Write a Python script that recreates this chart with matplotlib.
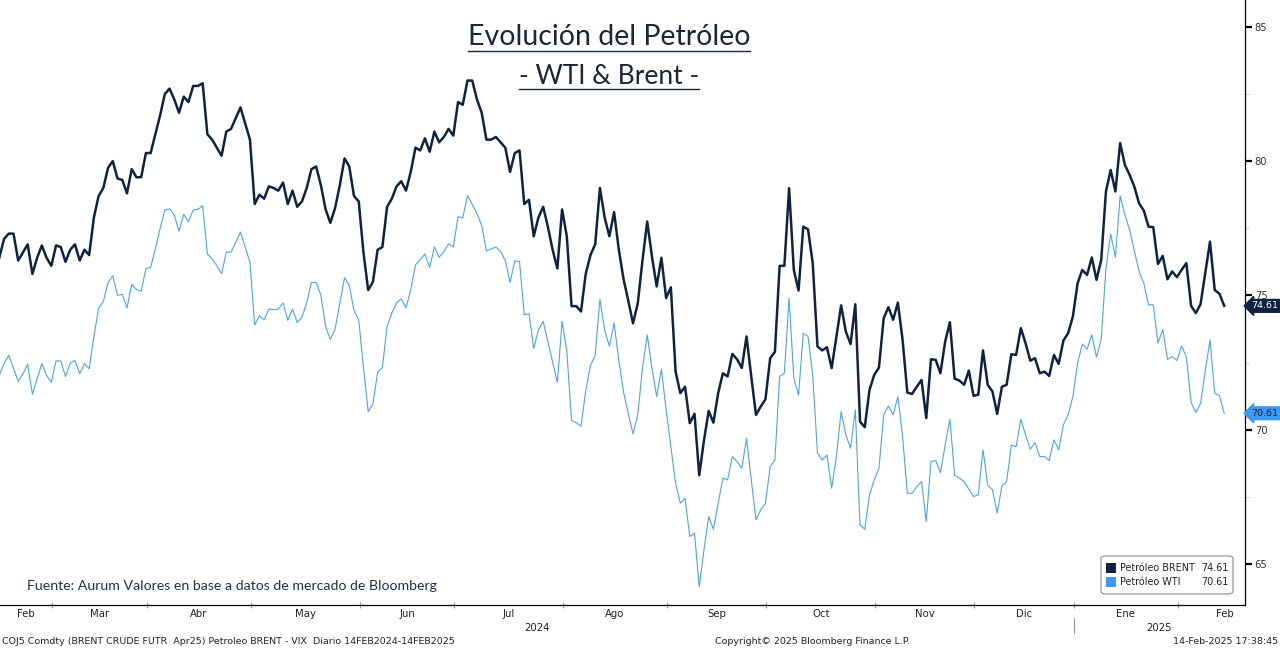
import matplotlib
matplotlib.use("Agg")
import matplotlib.pyplot as plt
import matplotlib.transforms as mtransforms
from matplotlib.lines import Line2D
from matplotlib.patches import FancyBboxPatch, Rectangle
import numpy as np
import pandas as pd

# Data: daily closes (trading days, ICE calendar)

holidays = ["2024-03-29", "2024-12-25", "2025-01-01"]

brent = [
    76.4, 77.1, 77.3, 77.3, 76.3, 76.6, 76.9, 75.8, 76.4, 76.86,
    76.4, 76.1, 76.86, 76.8, 76.25, 76.7, 76.9, 76.3, 76.7, 76.5,
    77.9, 78.7, 79.0, 79.75, 80.0, 79.35, 79.3, 78.8, 79.7, 79.4,
    79.4, 80.3, 80.3, 81.0, 81.7, 82.5, 82.7, 82.3, 81.8, 82.4,
    82.2, 82.8, 82.8, 82.9, 81.0, 80.8, 80.5, 80.2, 81.1, 81.2,
    81.6, 82.0, 81.4, 80.8, 78.4, 78.75, 78.6, 79.06, 79.0, 78.9,
    79.2, 78.4, 78.9, 78.3, 78.5, 79.0, 79.7, 79.8, 79.1, 78.2,
    77.7, 78.25, 79.1, 80.1, 79.8, 78.7, 78.5, 76.6, 75.2, 75.5,
    76.7, 76.8, 78.3, 78.6, 79.06, 79.25, 78.9, 79.6, 80.5, 80.4,
    80.85, 80.35, 81.1, 80.7, 80.9, 81.2, 80.95, 82.2, 82.1, 83.0,
    83.0, 82.3, 81.8, 80.8, 80.8, 80.9, 80.7, 80.5, 79.6, 80.3,
    80.4, 78.4, 78.56, 77.2, 77.9, 78.3, 77.55, 76.7, 76.0, 78.2,
    77.2, 74.6, 74.6, 74.4, 75.8, 76.5, 76.9, 79.0, 77.9, 77.2,
    78.1, 76.7, 75.6, 74.8, 73.96, 74.7, 76.3, 77.75, 76.45, 75.33,
    76.4, 74.9, 75.3, 72.16, 71.36, 71.6, 70.24, 70.59, 68.3, 69.6,
    70.7, 70.26, 71.36, 72.1, 71.98, 72.82, 72.62, 72.3, 73.47, 71.98,
    70.55, 70.86, 71.13, 72.66, 72.9, 76.1, 76.1, 78.99, 75.95, 75.18,
    77.56, 77.46, 76.2, 73.1, 72.95, 73.07, 72.29, 73.47, 74.63, 73.65,
    73.19, 74.67, 70.3, 70.09, 71.48, 72.04, 72.31, 74.15, 74.56, 74.09,
    74.73, 73.34, 71.38, 71.33, 71.6, 71.85, 70.43, 72.62, 72.6, 72.1,
    73.28, 74.0, 71.9, 71.83, 71.67, 72.2, 71.26, 71.3, 72.95, 71.67,
    71.42, 70.59, 71.6, 71.67, 72.81, 72.78, 73.78, 73.22, 72.57, 72.66,
    72.1, 72.16, 72.0, 72.78, 72.45, 73.32, 73.59, 74.21, 75.45, 75.95,
    75.76, 76.41, 75.58, 76.32, 78.87, 79.67, 78.87, 80.67, 79.86, 79.49,
    79.05, 78.43, 78.16, 77.56, 77.54, 76.17, 76.47, 75.6, 75.89, 75.68,
    75.95, 76.2, 74.61, 74.34, 74.67, 75.83, 77.0, 75.2, 75.06, 74.61,
]

# None = no WTI settlement that day (US holiday)
wti = [
    72.02, 72.46, 72.77, None, 71.8, 72.08, 72.43, 71.32, 71.89, 72.46,
    72.02, 71.76, 72.56, 72.56, 71.98, 72.48, 72.58, 72.08, 72.46, 72.27,
    73.46, 74.53, 74.78, 75.48, 75.73, 75.0, 75.04, 74.53, 75.41, 75.22,
    75.16, 76.0, 76.04, 76.73, 77.49, 78.18, 78.22, 77.99, 77.39, 78.02,
    77.74, 78.18, 78.2, 78.34, 76.54, 76.36, 76.1, 75.81, 76.61, 76.61,
    76.98, 77.36, 76.8, 76.23, 73.9, 74.24, 74.09, 74.49, 74.47, 74.49,
    74.72, 74.07, 74.49, 73.99, 74.19, 74.72, 75.48, 75.48, 75.0, 73.84,
    73.36, 73.74, None, 75.66, 75.37, 74.44, 74.09, 72.33, 70.67, 70.95,
    72.14, 72.31, 73.84, 74.34, 74.72, 74.87, 74.53, 75.22, 76.13, None,
    76.54, 76.04, 76.8, 76.42, 76.63, 76.92, 76.8, 77.93, 77.89, 78.72,
    None, 78.05, 77.61, 76.65, 76.73, 76.8, 76.63, 76.29, 75.48, 76.29,
    76.26, 74.28, 74.32, 73.02, 73.71, 74.03, 73.27, 72.52, 71.76, 74.03,
    72.93, 70.34, 70.26, 70.13, 71.45, 72.39, 72.77, 74.85, 73.71, 73.11,
    73.97, 72.58, 71.39, 70.6, 69.84, 70.55, 72.29, 73.53, 72.29, 71.23,
    72.25, 70.74, None, 68.0, 67.26, 67.45, 66.02, 66.14, 64.15, 65.52,
    66.76, 66.29, 67.26, 68.19, 68.13, 69.0, 68.81, 68.56, 69.68, 68.13,
    66.64, 67.01, 67.26, 68.62, 68.87, 71.98, 72.1, 74.9, 71.91, 71.29,
    73.59, 73.47, 72.04, 69.12, 68.87, 69.06, 67.82, 69.0, 70.67, 69.8,
    69.31, 70.74, 66.45, 66.29, 67.57, 68.13, 68.56, 70.55, 70.88, 70.55,
    71.23, 69.74, 67.63, 67.63, 67.88, 68.07, 66.58, 68.81, 68.85, 68.4,
    69.43, 70.39, 68.31, 68.19, 68.07, None, 67.51, 67.57, 69.25, 67.94,
    67.76, 66.89, 67.9, 68.07, 69.43, 69.37, 70.39, 69.8, 69.27, 69.52,
    69.0, 69.0, 68.85, 69.62, 69.25, 70.18, 70.55, 71.23, 72.47, 73.19,
    72.99, 73.53, 72.7, 73.37, 76.01, 77.28, 76.42, 78.71, 78.0, 77.44,
    None, 75.89, 75.45, 74.65, 74.65, 73.22, 73.74, 72.62, 72.72, 72.57,
    73.12, 72.7, 71.01, 70.64, 70.98, 72.2, 73.34, 71.36, 71.26, 70.61,
]

month_names = ["Ene", "Feb", "Mar", "Abr", "May", "Jun", "Jul",
               "Ago", "Sep", "Oct", "Nov", "Dic"]

series_labels = ["Petróleo BRENT", "Petróleo WTI"]

NAVY = "#0f2341"
BLUE = "#4ba3f2"
BLUE_SQ = "#3a9af5"
TXT = "#222222"
BB_FONT = "DejaVu Sans"

dates = pd.bdate_range("2024-02-14", "2025-02-14")
dates = dates[~dates.isin(pd.to_datetime(holidays))]
x = np.arange(len(dates))

W, H = 1280, 648
fig = plt.figure(figsize=(W / 100, H / 100), dpi=100)
fig.patch.set_facecolor("white")


def px(xp, yp):
    return xp / W, 1 - yp / H


# Axes area in pixels: x 0..1245, y 0..605 (from top)
ax = fig.add_axes([0, 1 - 605 / H, 1245 / W, 605 / H])

# Lines:

ax.plot(x, brent, color=NAVY, lw=1.8, zorder=3)

w = np.array([np.nan if v is None else v for v in wti])
ok = ~np.isnan(w)
ax.plot(x[ok], w[ok], color=BLUE, lw=0.8, zorder=2)

xmin, xmax = 0.15, 263.4
ax.set_xlim(xmin, xmax)
ax.set_ylim(63.47, 86.0)

for s in ["left", "top"]:
    ax.spines[s].set_visible(False)
for s in ["right", "bottom"]:
    ax.spines[s].set_color("black")
    ax.spines[s].set_linewidth(0.9)

# Y axis on the right:

ax.yaxis.tick_right()
ax.set_yticks([65, 70, 75, 80, 85])
ax.set_yticks([67.5, 72.5, 77.5, 82.5], minor=True)
ax.tick_params(axis="y", which="major", direction="out", length=5, width=1.6,
               color="black", labelsize=7.2, labelcolor="#333333", pad=2)
ax.tick_params(axis="y", which="minor", direction="out", length=3, width=0.8,
               color="#cccccc")
for lab in ax.get_yticklabels():
    lab.set_family(BB_FONT)

# X axis: month boundaries

month_start = [i for i in range(1, len(dates)) if dates[i].month != dates[i - 1].month]
ticks = [i - 0.8 for i in month_start]
ax.set_xticks(ticks)
ax.set_xticklabels([])
ax.tick_params(axis="x", which="major", direction="inout", length=5, width=0.8,
               color="#999999")

bl = mtransforms.blended_transform_factory(ax.transData, fig.transFigure)

last_month = dates[month_start[-1]]
n_last = len(pd.bdate_range(last_month.replace(day=1), last_month + pd.offsets.MonthEnd(0)))
bounds = [xmin] + ticks + [ticks[-1] + n_last]
label_months = [dates[0].month] + [dates[i].month for i in month_start]
for k, mth in enumerate(label_months):
    pos = (bounds[k] + bounds[k + 1]) / 2
    ax.text(pos, 1 - 614 / H, month_names[mth - 1], transform=bl, ha="center",
            va="center", fontsize=7.3, color=TXT, family=BB_FONT)

# Years:

jan = [t for t, i in zip(ticks, month_start) if dates[i].month == 1][0]
ax.text((xmin + jan) / 2, 1 - 628 / H, str(dates[0].year), transform=bl,
        ha="center", va="center", fontsize=7.3, color=TXT, family=BB_FONT)
ax.text((jan + xmax) / 2, 1 - 628 / H, str(dates[-1].year), transform=bl,
        ha="center", va="center", fontsize=7.3, color=TXT, family=BB_FONT)
fig.add_artist(Line2D([jan, jan], [1 - 618 / H, 1 - 633 / H], transform=bl,
                      color="#999999", lw=0.8))

# Last value tags:

tr = mtransforms.blended_transform_factory(ax.transAxes, ax.transData)
ax.text(1 + 6 / 1245, brent[-1], f"{brent[-1]:.2f}", transform=tr, ha="left",
        va="center", fontsize=6.8, color="white", family=BB_FONT, clip_on=False,
        bbox=dict(boxstyle="larrow,pad=0.2", fc=NAVY, ec=NAVY), zorder=5)
ax.text(1 + 6 / 1245, wti[-1], f"{wti[-1]:.2f}", transform=tr, ha="left",
        va="center", fontsize=6.8, color=NAVY, family=BB_FONT, clip_on=False,
        bbox=dict(boxstyle="larrow,pad=0.2", fc=BLUE_SQ, ec=BLUE_SQ), zorder=5)

# Legend box:

x0, y0 = px(1101, 594)
x1, y1 = px(1233, 556)
fig.add_artist(FancyBboxPatch((x0, y0), x1 - x0, y1 - y0, transform=fig.transFigure,
                              boxstyle="round,pad=0,rounding_size=0.004",
                              fc="white", ec="#9a9a9a", lw=0.9, zorder=6))
for k, (lab, val, col) in enumerate(zip(series_labels, [brent[-1], wti[-1]], [NAVY, BLUE_SQ])):
    yc = 568 + 14 * k
    sx, sy = px(1106, yc + 5)
    fig.add_artist(Rectangle((sx, sy), 10 / W, 10 / H, transform=fig.transFigure,
                             fc=col, ec="none", zorder=7))
    fig.text(*px(1120, yc), lab, ha="left", va="center", fontsize=6.9, color=TXT,
             family=BB_FONT, zorder=7)
    fig.text(*px(1229, yc), f"{val:.2f}", ha="right", va="center", fontsize=6.9,
             color=TXT, family=BB_FONT, zorder=7)

# Source note:

fig.text(*px(27, 586), "Fuente: Aurum Valores en base a datos de mercado de Bloomberg",
         ha="left", va="center", fontsize=10.2, color="#22304a", family="Lato")

# Titles (underlined):

t1 = fig.text(*px(609, 37), "Evolución del Petróleo", ha="center", va="center",
              fontsize=20.5, color="#1c2636", family="Lato")
t2 = fig.text(*px(609, 76), "- WTI & Brent -", ha="center", va="center",
              fontsize=19, color="#1c2636", family="Lato")

fig.canvas.draw()
r = fig.canvas.get_renderer()
for t, yl in [(t1, 51), (t2, 89)]:
    bb = t.get_window_extent(r)
    fig.add_artist(Line2D([bb.x0 / W, bb.x1 / W], [1 - yl / H, 1 - yl / H],
                          transform=fig.transFigure, color="#1c2636", lw=1.0))

# Footer:

fig.text(*px(2, 641), "COJ5 Comdty (BRENT CRUDE FUTR  Apr25) Petroleo BRENT - VIX  Diario 14FEB2024-14FEB2025",
         ha="left", va="center", fontsize=6.8, color=TXT, family=BB_FONT)
fig.text(*px(813, 641), "Copyright© 2025 Bloomberg Finance L.P.", ha="center", va="center",
         fontsize=6.8, color=TXT, family=BB_FONT)
fig.text(*px(1278, 641), "14-Feb-2025 17:38:45", ha="right", va="center",
         fontsize=6.8, color=TXT, family=BB_FONT)

fig.savefig("out.png", dpi=100)
plt.close(fig)
